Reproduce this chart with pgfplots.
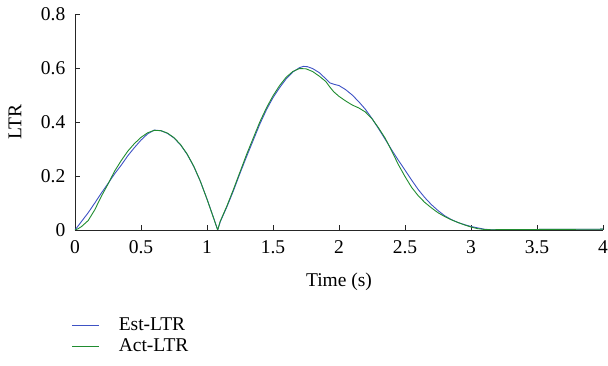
\documentclass[border=0pt]{standalone}
\usepackage{pgfplots}
\pgfplotsset{compat=1.18}
\usepackage{fontspec}
\setmainfont{Liberation Serif}
\definecolor{estblue}{RGB}{62,82,196}
\definecolor{actgreen}{RGB}{32,140,48}
\begin{document}
\fontsize{19.5}{23}\selectfont
\begin{tikzpicture}
\path[use as bounding box] (-75pt,-136pt) rectangle (533pt,230pt);
\begin{axis}[
  scale only axis, width=528pt, height=216pt,
  at={(0,0)}, anchor=south west,
  xmin=0, xmax=4, ymin=0, ymax=0.8,
  axis lines=left, axis line style={-, line width=0.9pt, black!85},
  xtick={0,0.5,...,4}, ytick={0,0.2,...,0.8},
  tick align=inside, major tick length=5pt,
  tick style={black!85, line width=0.8pt},
  /pgf/number format/assume math mode=true,
  ticklabel style={font=\fontsize{19.5}{23}\selectfont},
  xticklabel style={yshift=-3.5pt},
  yticklabel style={xshift=-3pt},
  label style={font=\fontsize{19.5}{23}\selectfont},
  xlabel={Time (s)}, ylabel={LTR},
  xlabel style={at={(axis description cs:0.5,0)}, anchor=center, yshift=-52pt},
  ylabel style={at={(axis description cs:-0.1136,0.5)}, anchor=center},
  legend style={draw=none, fill=none, at={(rel axis cs:-0.012,-0.385)}, anchor=north west,
    font=\fontsize{19.5}{23}\selectfont, row sep=0pt, column sep=17pt,
    nodes={text height=14pt, text depth=4pt, inner ysep=1.5pt}},
  legend cell align=left,
  legend image code/.code={\draw[#1] (0pt,0pt) -- (27pt,0pt);},
]
\addplot[estblue, line width=0.9pt] coordinates {
(0,0) (0.05,0.032) (0.1,0.064) (0.15,0.100) (0.2,0.137) (0.25,0.172) (0.3,0.208)
(0.35,0.240) (0.4,0.275) (0.45,0.305) (0.5,0.333) (0.55,0.356) (0.6,0.370)
(0.65,0.368) (0.7,0.358) (0.75,0.341) (0.8,0.315) (0.85,0.280) (0.9,0.235)
(0.95,0.180) (1.0,0.115) (1.05,0.045) (1.081,0) (1.1,0.03) (1.15,0.085)
(1.2,0.145) (1.25,0.210) (1.3,0.272) (1.35,0.332) (1.4,0.392) (1.45,0.445)
(1.5,0.490) (1.55,0.527) (1.6,0.560) (1.65,0.585) (1.7,0.601) (1.73,0.606)
(1.76,0.605) (1.8,0.598) (1.85,0.583) (1.9,0.560) (1.93,0.545) (1.96,0.540)
(2.0,0.535) (2.05,0.520) (2.1,0.500) (2.15,0.475) (2.2,0.447) (2.25,0.413)
(2.3,0.375) (2.35,0.336) (2.4,0.296) (2.45,0.258) (2.5,0.222) (2.55,0.185)
(2.6,0.150) (2.65,0.120) (2.7,0.094) (2.75,0.072) (2.8,0.053) (2.85,0.039)
(2.9,0.028) (2.95,0.020) (3.0,0.013) (3.05,0.008) (3.1,0.003) (3.15,0.001)
(3.2,0.001) (3.5,0.002) (4.0,0.003)
};
\addlegendentry{Est-LTR}
\addplot[actgreen, line width=0.9pt] coordinates {
(0,0) (0.025,0.005) (0.05,0.013) (0.1,0.035) (0.15,0.075) (0.2,0.125) (0.25,0.170)
(0.3,0.218) (0.35,0.257) (0.4,0.292) (0.45,0.320) (0.5,0.343) (0.55,0.360)
(0.6,0.369) (0.65,0.368) (0.7,0.359) (0.75,0.342) (0.8,0.316) (0.85,0.281)
(0.9,0.236) (0.95,0.180) (1.0,0.114) (1.05,0.044) (1.081,0) (1.1,0.032)
(1.15,0.088) (1.2,0.150) (1.25,0.215) (1.3,0.280) (1.35,0.340) (1.4,0.400)
(1.45,0.452) (1.5,0.497) (1.55,0.535) (1.6,0.566) (1.65,0.587) (1.7,0.598)
(1.75,0.597) (1.8,0.587) (1.85,0.570) (1.9,0.550) (1.93,0.530) (1.96,0.512)
(2.0,0.495) (2.05,0.478) (2.1,0.463) (2.15,0.452) (2.2,0.437) (2.25,0.412)
(2.3,0.378) (2.35,0.340) (2.4,0.292) (2.45,0.242) (2.5,0.198) (2.55,0.158)
(2.6,0.127) (2.65,0.102) (2.7,0.082) (2.75,0.064) (2.8,0.050) (2.85,0.038)
(2.9,0.028) (2.95,0.019) (3.0,0.011) (3.05,0.005) (3.1,0.002) (3.15,0.001)
(3.5,0.002) (4.0,0.003)
};
\addlegendentry{Act-LTR}
\end{axis}
\end{tikzpicture}
\end{document}
